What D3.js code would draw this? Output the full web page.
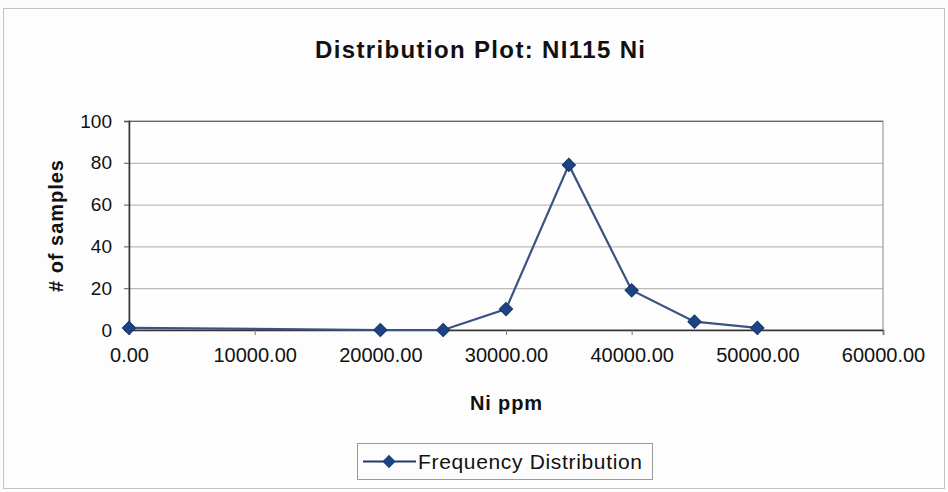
<!DOCTYPE html>
<html><head><meta charset="utf-8">
<script src="https://cdn.jsdelivr.net/npm/d3@7"></script>
<style>body{margin:0;background:#fff}svg{display:block}</style>
</head><body>
<svg id="c" width="948" height="492"></svg>
<script>
const niPpm = [0, 20000, 25000, 30000, 35000, 40000, 45000, 50000];
const samples = [1, 0, 0, 10, 79, 19, 4, 1];
const xTicks = [0, 10000, 20000, 30000, 40000, 50000, 60000];
const yTicks = [0, 20, 40, 60, 80, 100];
const titleText = "Distribution Plot: NI115 Ni";
const xLabel = "Ni ppm";
const yLabel = "# of samples";
const legendLabel = "Frequency Distribution";

const svg = d3.select("#c");
const W = 948, H = 492;
const m = {l:129, r:65, t:121, b:162};
const ff = "Arial, 'Liberation Sans', sans-serif";
svg.append("rect").attr("x",0).attr("y",0).attr("width",W).attr("height",H).attr("fill","#fcfcfc");
svg.append("rect").attr("x",3.5).attr("y",8.5).attr("width",941).attr("height",480)
  .attr("fill","#fdfdfd").attr("stroke","#c4c4c4").attr("stroke-width",1);

const x = d3.scaleLinear().domain([0,60000]).range([m.l, W-m.r]);
const y = d3.scaleLinear().domain([0,100]).range([H-m.b, m.t]);

// plot area
svg.append("rect").attr("x",x(0)).attr("y",y(100)).attr("width",x(60000)-x(0)).attr("height",y(0)-y(100))
  .attr("fill","#fefefe").attr("stroke","#8a8a8a").attr("stroke-width",1);

// grid
svg.append("g").selectAll("line").data(yTicks.filter(d=>d>0)).join("line")
  .attr("x1",x(0)).attr("x2",x(60000)).attr("y1",d=>y(d)+0.5).attr("y2",d=>y(d)+0.5)
  .attr("stroke", d=>d===100?"#666":"#ababab").attr("stroke-width",1);

// axes
const yAxis = d3.axisLeft(y).tickValues(yTicks).tickSize(5).tickFormat(d3.format("d")).tickPadding(12);
const gy = svg.append("g").attr("transform",`translate(${x(0)},0)`).call(yAxis);
gy.select(".domain").attr("stroke","#333").attr("stroke-width",1.5);
gy.selectAll(".tick line").attr("stroke","#555");
gy.selectAll("text").attr("font-family",ff).attr("font-size",19).attr("fill","#111");

const xAxis = d3.axisBottom(x).tickValues(xTicks).tickSize(5).tickFormat(d3.format(".2f")).tickPadding(13);
const gx = svg.append("g").attr("transform",`translate(0,${y(0)})`).call(xAxis);
gx.select(".domain").attr("stroke","#333").attr("stroke-width",1.5);
gx.selectAll(".tick line").attr("stroke","#777");
gx.selectAll("text").attr("font-family",ff).attr("font-size",20).attr("fill","#111");

// series
const pts = niPpm.map((v,i)=>({x:v,y:samples[i]}));
svg.append("path").datum(pts)
  .attr("d", d3.line().x(d=>x(d.x)).y(d=>y(d.y)))
  .attr("fill","none").attr("stroke","#3b5283").attr("stroke-width",2.2);
const diamond = d3.symbol().type(d3.symbolSquare).size(88);
svg.append("g").selectAll("path").data(pts).join("path")
  .attr("d", diamond).attr("transform", d=>`translate(${x(d.x)},${y(d.y)}) rotate(45)`)
  .attr("fill","#1d4383").attr("stroke","#16366e").attr("stroke-width",1);

// titles
svg.append("text").attr("x",480).attr("y",58).attr("text-anchor","middle")
  .attr("font-family",ff).attr("font-weight","bold").attr("font-size",24).attr("fill","#111")
  .attr("textLength",330).attr("lengthAdjust","spacing").text(titleText);
svg.append("text").attr("x",506).attr("y",410).attr("text-anchor","middle")
  .attr("font-family",ff).attr("font-weight","bold").attr("font-size",20).attr("fill","#111")
  .attr("textLength",72).attr("lengthAdjust","spacing").text(xLabel);
svg.append("text").attr("transform",`translate(63,226) rotate(-90)`).attr("text-anchor","middle")
  .attr("font-family",ff).attr("font-weight","bold").attr("font-size",20).attr("fill","#111")
  .attr("textLength",132).attr("lengthAdjust","spacing").text(yLabel);

// legend
const lg = svg.append("g").attr("transform","translate(357,443)");
lg.append("rect").attr("x",0.5).attr("y",0.5).attr("width",295).attr("height",36)
  .attr("fill","#fdfdfd").attr("stroke","#9a9a9a");
lg.append("line").attr("x1",6).attr("x2",59).attr("y1",18.5).attr("y2",18.5).attr("stroke","#223a6a").attr("stroke-width",2);
lg.append("path").attr("d",diamond).attr("transform","translate(32,18.5) rotate(45)").attr("fill","#1d4383");
lg.append("text").attr("x",61).attr("y",26).attr("font-family",ff).attr("font-size",21).attr("fill","#111")
  .attr("textLength",224).attr("lengthAdjust","spacing").text(legendLabel);
</script>
</body></html>
